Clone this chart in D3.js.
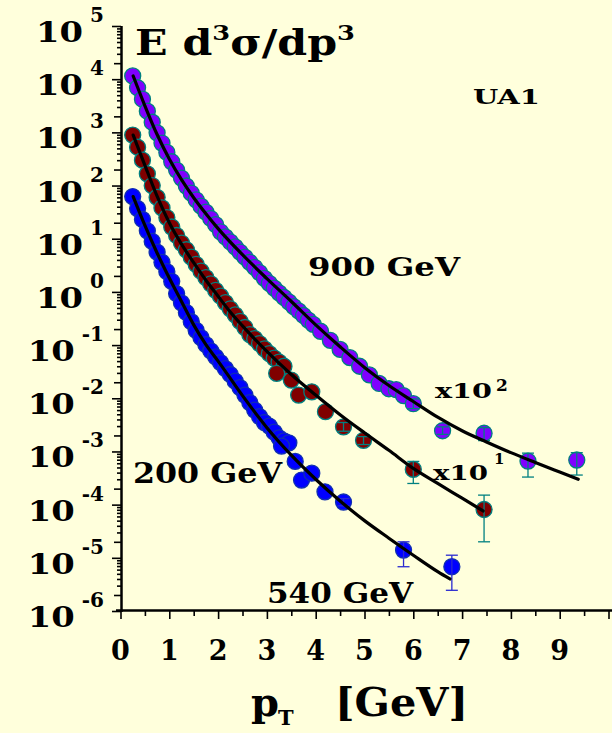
<!DOCTYPE html>
<html><head><meta charset="utf-8">
<script src="https://cdn.jsdelivr.net/npm/d3@7"></script>
<style>html,body{margin:0;padding:0;background:#ffffdc;} svg{display:block;}</style>
</head><body><svg id="c" width="612" height="733"></svg>
<script>
// ---------- data (pT in GeV, invariant cross section, scaled as on the plot) ----------
const pt900 = [0.25,0.35,0.45,0.55,0.65,0.75,0.85,0.95,1.05,1.15,1.25,1.35,1.45,1.55,1.65,1.75,1.85,1.95,
  2.05,2.15,2.25,2.35,2.45,2.55,2.65,2.75,2.85,2.95,3.05,3.15,3.25,3.35,3.45,3.55,3.65,3.75,3.85,3.95,
  4.1,4.3,4.5,4.7,4.9,5.1,5.3,5.5,5.65,5.8,6.0,6.6,7.45,8.35,9.35];
const val900 = [11500,6900,4200,2500,1550,980,630,420,280,195,138,98,72,54,41,31.6,24,18.4,
  13.5,10.8,8.7,7.0,5.6,4.5,3.6,2.9,2.3,1.8,1.45,1.18,0.96,0.79,0.65,0.53,0.44,0.36,0.295,0.245,
  0.182,0.123,0.083,0.058,0.040,0.0275,0.019,0.0151,0.0145,0.0112,0.0079,0.00245,0.0022,0.00066,0.00069];

const pt540 = [0.25,0.35,0.45,0.55,0.65,0.75,0.85,0.95,1.05,1.15,1.25,1.35,1.45,1.55,1.65,1.75,1.85,1.95,
  2.05,2.15,2.25,2.35,2.45,2.55,2.65,2.75,2.85,2.95,3.05,3.15,3.25,3.35,
  3.2,3.5,3.65,3.92,4.2,4.57,4.98,6.0,7.45];
const val540 = [890,525,300,166,100,60,38,25,16.6,11.5,8.3,6.2,4.5,3.3,2.45,1.86,1.41,1.07,
  0.83,0.63,0.48,0.37,0.28,0.214,0.158,0.132,0.107,0.085,0.069,0.057,0.048,0.040,
  0.0295,0.022,0.0115,0.0132,0.0056,0.0029,0.00162,0.00046,0.000081];

const pt200 = [0.25,0.35,0.45,0.55,0.65,0.75,0.85,0.95,1.05,1.15,1.25,1.35,1.45,1.55,1.65,1.75,1.85,1.95,
  2.05,2.15,2.25,2.35,2.45,2.55,2.65,2.75,2.85,2.95,3.05,3.15,3.25,3.35,3.45,
  3.3,3.58,3.71,3.92,4.19,4.57,5.8,6.79];
const val200 = [62,37,23,14.1,8.9,5.6,3.6,2.4,1.58,0.93,0.62,0.41,0.275,0.19,0.138,0.102,0.078,0.060,
  0.047,0.036,0.028,0.021,0.0158,0.0115,0.0083,0.0060,0.0045,0.0035,0.0030,0.0023,0.0018,0.00158,0.00145,
  0.00126,0.00065,0.00029,0.00039,0.000174,0.000112,0.000014,0.0000068];

// error bars (pT, lower, upper)
const errPt900 = [6.0,6.6,7.45,8.35,9.35];
const errLo900 = [0.0064,0.0021,0.0016,0.00033,0.00036];
const errHi900 = [0.0097,0.0029,0.0028,0.00093,0.00095];
const errPt540 = [4.57,4.98,6.0,7.45];
const errLo540 = [0.0024,0.00135,0.00025,0.00002];
const errHi540 = [0.0035,0.0019,0.00065,0.000151];
const errPt200 = [4.57,5.8,6.79];
const errLo200 = [0.000095,0.0000068,0.00000245];
const errHi200 = [0.00013,0.00002,0.0000112];

// fitted curves
const fitPt900 = [0.26,0.5,0.75,1.0,1.25,1.5,1.75,2.0,2.5,3.0,3.5,4.0,4.5,5.0,5.5,6.0,6.5,7.0,7.5,8.0,8.5,9.0,9.38];
const fitVal900 = [11500,3160,910,316,129,59,29.5,15.5,5.0,1.78,0.66,0.24,0.093,0.038,0.0174,0.0087,0.0044,0.00245,0.00151,0.00095,0.00062,0.00041,0.0003];
const fitPt540 = [0.26,0.5,0.75,1.0,1.25,1.5,1.75,2.0,2.25,2.5,3.0,3.5,4.0,4.5,5.0,5.5,6.0,6.5,7.0,7.43];
const fitVal540 = [890,240,63,20,7.9,3.55,1.66,0.83,0.42,0.23,0.076,0.028,0.0115,0.0049,0.00224,0.00105,0.00048,0.00025,0.000132,0.000076];
const fitPt200 = [0.26,0.5,0.75,1.0,1.25,1.5,1.75,2.0,2.5,3.0,3.5,4.0,4.5,5.0,5.5,6.0,6.5,6.75];
const fitVal200 = [62,17.8,5.4,1.82,0.66,0.24,0.102,0.050,0.0112,0.0028,0.00085,0.0003,0.000117,0.00005,0.0000234,0.0000112,0.0000055,0.000004];

const xTickLabels = ["0","1","2","3","4","5","6","7","8","9"];
const yDecades = [-6,-5,-4,-3,-2,-1,0,1,2,3,4,5];

// ---------- drawing ----------
const FONT = "'DejaVu Serif', 'Liberation Serif', serif";
const svg = d3.select("#c");
svg.append("rect").attr("width",612).attr("height",733).attr("fill","#ffffdc");

const x = d3.scaleLinear().domain([0,10]).range([120.5,608.5]);
const y = d3.scaleLog().domain([1e-6,1e5]).range([611,26]);

const zip = (a,b) => a.map((v,i)=>[v,b[i]]);

// axes
const minorX = d3.range(0,20).map(i=>i*0.5+0.5).filter(v=>v%1!==0);
const gx = svg.append("g").attr("transform","translate(0,610)");
gx.call(d3.axisBottom(x).tickValues(d3.range(0,11)).tickSize(9).tickSizeOuter(0).tickFormat(""));
gx.append("g").call(d3.axisBottom(x).tickValues(minorX).tickSize(6).tickSizeOuter(0).tickFormat(""))
  .select(".domain").remove();
gx.select(".domain").attr("d","M116,0.5H612").attr("stroke-width",2.5);
gx.selectAll(".tick line").attr("stroke-width",1.6);

const majY = yDecades.map(e=>Math.pow(10,e));
const twoY = yDecades.slice(0,-1).map(e=>2*Math.pow(10,e));
const minY = [];
yDecades.slice(0,-1).forEach(e=>{ for(let k=3;k<=9;k++) minY.push(k*Math.pow(10,e)); });
const gy = svg.append("g").attr("transform","translate(121,0)");
gy.call(d3.axisLeft(y).tickValues(majY).tickSize(9).tickSizeOuter(0).tickFormat(""));
gy.append("g").call(d3.axisLeft(y).tickValues(twoY).tickSize(7).tickSizeOuter(0).tickFormat("")).select(".domain").remove();
gy.append("g").call(d3.axisLeft(y).tickValues(minY).tickSize(4).tickSizeOuter(0).tickFormat("")).select(".domain").remove();
gy.select(".domain").attr("d","M0.5,26V612").attr("stroke-width",2.5);
gy.selectAll(".tick line").attr("stroke-width",1.6);

// y tick labels 10^n
yDecades.forEach(e=>{
  const ty = y(Math.pow(10,e));
  const ex = svg.append("text").attr("x",104).attr("y",ty-4).attr("text-anchor","end")
    .attr("font-family",FONT).attr("font-weight","bold").attr("font-size",20)
    .text(e<0 ? "-"+(-e) : String(e));
  const w = ex.node().getComputedTextLength();
  svg.append("text").attr("x",104-w-7-47).attr("y",ty+16)
    .attr("font-family",FONT).attr("font-weight","bold").attr("font-size",27)
    .attr("textLength",47).attr("lengthAdjust","spacingAndGlyphs").text("10");
});

// x tick labels
svg.selectAll("text.xl").data(xTickLabels).join("text").attr("class","xl")
  .attr("x",(d,i)=>x(i)).attr("y",660).attr("text-anchor","middle")
  .attr("font-family",FONT).attr("font-weight","bold").attr("font-size",27).text(d=>d);

// series
const series = [
  {pt:pt200,val:val200,fill:"#0000ff",stroke:"#1030b0",ep:errPt200,el:errLo200,eh:errHi200,ec:"#2a2ad0"},
  {pt:pt540,val:val540,fill:"#800000",stroke:"#008080",ep:errPt540,el:errLo540,eh:errHi540,ec:"#008080"},
  {pt:pt900,val:val900,fill:"#8000ff",stroke:"#008080",ep:errPt900,el:errLo900,eh:errHi900,ec:"#008080"}
];
series.forEach(s=>{
  const g = svg.append("g");
  g.selectAll("circle").data(zip(s.pt,s.val)).join("circle")
    .attr("cx",d=>x(d[0])).attr("cy",d=>y(d[1])).attr("r",8)
    .attr("fill",s.fill).attr("stroke",s.stroke).attr("stroke-width",1.3);
  const eg = g.append("g").attr("stroke",s.ec).attr("stroke-width",1.3);
  s.ep.forEach((p,i)=>{
    const cx = x(p), y1 = y(s.el[i]), y2 = y(s.eh[i]);
    eg.append("line").attr("x1",cx).attr("x2",cx).attr("y1",y1).attr("y2",y2);
    eg.append("line").attr("x1",cx-6).attr("x2",cx+6).attr("y1",y1).attr("y2",y1);
    eg.append("line").attr("x1",cx-6).attr("x2",cx+6).attr("y1",y2).attr("y2",y2);
  });
});

// fit curves
const line = d3.line().x(d=>x(d[0])).y(d=>y(d[1])).curve(d3.curveMonotoneX);
[[fitPt900,fitVal900],[fitPt540,fitVal540],[fitPt200,fitVal200]].forEach(([p,v])=>{
  svg.append("path").attr("d",line(zip(p,v))).attr("fill","none")
    .attr("stroke","#000").attr("stroke-width",3.2).attr("stroke-linecap","round");
});

// text labels
function label(txt,xx,yy,fs,len){
  const t = svg.append("text").attr("x",xx).attr("y",yy).attr("font-family",FONT)
    .attr("font-weight","bold").attr("font-size",fs).text(txt);
  if(len) t.attr("textLength",len).attr("lengthAdjust","spacingAndGlyphs");
  return t;
}
// title
const title = svg.append("text").attr("x",135).attr("y",55).attr("font-family",FONT)
  .attr("font-weight","bold").attr("font-size",35).attr("textLength",220).attr("lengthAdjust","spacingAndGlyphs");
title.append("tspan").text("E d");
title.append("tspan").attr("font-size",21).attr("dy",-15).text("3");
title.append("tspan").attr("dy",15).text("σ/dp");
title.append("tspan").attr("font-size",21).attr("dy",-15).text("3");

label("UA1",473,104,21,67);
label("900 GeV",308,276,26,152);
label("200 GeV",133,483,27,149);
label("540 GeV",267,603,27,146);
label("x10",435,398,21,57);
label("2",496,391,17);
label("x10",433,480,21,55);
label("1",494,464,15);

// axis title
label("p",251,716,40);
label("T",278,725,21);
label("[GeV]",335,716,40,133);
</script></body></html>
